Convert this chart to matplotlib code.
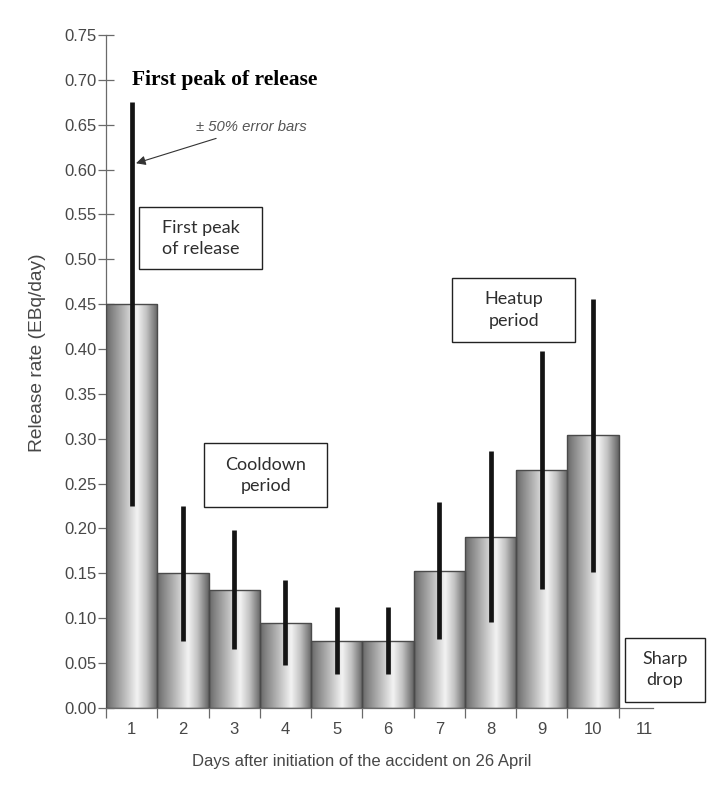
import numpy as np
import matplotlib
matplotlib.use("Agg")
import matplotlib.pyplot as plt
from matplotlib.colors import LinearSegmentedColormap
from matplotlib.patches import Rectangle

# release rate per day (EBq/day), error bars are +/- 50 %
days = np.arange(1, 11)
release = [0.45, 0.15, 0.132, 0.095, 0.075, 0.075, 0.153, 0.191, 0.265, 0.304]
err_frac = 0.5
tick_days = list(range(1, 12))
yticks = np.arange(0, 0.76, 0.05)

# labelled boxes: (text, x0, x1, y0, y1) in data units
boxes = [
    ("First peak\nof release", 1.145, 3.547, 0.489, 0.558),
    ("Cooldown\nperiod", 2.414, 4.816, 0.224, 0.295),
    ("Heatup\nperiod", 7.258, 9.641, 0.408, 0.479),
    ("Sharp\ndrop", 10.617, 12.18, 0.007, 0.078),
]

plt.rcParams["font.family"] = ["Liberation Sans", "DejaVu Sans"]
grey_txt = "#474747"

fig = plt.figure(figsize=(7.12, 7.89), dpi=100)
ax = fig.add_axes([0.1489, 0.1027, 0.7683, 0.853])

metal = LinearSegmentedColormap.from_list(
    "metal",
    [(0.0, "#676767"), (0.12, "#858585"), (0.40, "#c4c4c4"),
     (0.60, "#f3f3f3"), (0.78, "#c2c2c2"), (1.0, "#626262")])
grad = np.linspace(0, 1, 256).reshape(1, -1)

bars = ax.bar(days, release, width=1.0, facecolor="none",
              edgecolor="#4a4a4a", linewidth=1.0, zorder=3)
for b in bars:
    x0, w, h = b.get_x(), b.get_width(), b.get_height()
    im = ax.imshow(grad, cmap=metal, extent=[x0, x0 + w, 0, h],
                   aspect="auto", zorder=2, interpolation="bilinear")
    im.set_clip_path(b)

yerr = np.array(release) * err_frac
ax.errorbar(days, release, yerr=yerr, fmt="none", ecolor="#141414",
            elinewidth=3.4, capsize=0, zorder=4)

ax.set_xlim(0.5, 11.17)
ax.set_ylim(0, 0.75)

for s in ["top", "right"]:
    ax.spines[s].set_visible(False)
for s in ["left", "bottom"]:
    ax.spines[s].set_color("#6a6a6a")
    ax.spines[s].set_linewidth(0.9)

ax.set_yticks(yticks)
ax.set_yticklabels(["%.2f" % v for v in yticks])
ax.tick_params(axis="y", direction="inout", length=12, width=0.9,
               color="#6a6a6a", labelcolor=grey_txt, labelsize=12, pad=1)

ax.set_xticks(np.arange(0.5, 11, 1.0))
ax.set_xticklabels([])
ax.tick_params(axis="x", which="major", direction="out", length=7,
               width=0.9, color="#6a6a6a")
ax.set_xticks(tick_days, minor=True)
ax.set_xticklabels([str(d) for d in tick_days], minor=True)
ax.tick_params(axis="x", which="minor", length=0, pad=10,
               labelcolor=grey_txt, labelsize=12)

ax.set_xlabel("Days after initiation of the accident on 26 April",
              fontsize=12, color=grey_txt)
ax.xaxis.set_label_coords(0.468, -0.0795)
ax.xaxis.label.set_va("center")
ax.set_ylabel("Release rate (EBq/day)", fontsize=13.8, color=grey_txt)
ax.yaxis.set_label_coords(-0.125, 0.528)
ax.yaxis.label.set_va("center")

ax.text(1.0, 0.70, "First peak of release", fontsize=15.5, fontweight="bold",
        family=["Liberation Serif", "DejaVu Serif"], ha="left", va="center",
        color="black", zorder=6)

ax.annotate("± 50% error bars", xy=(1.085, 0.607), xytext=(2.26, 0.647),
            fontsize=10.7, style="italic", color="#555555",
            ha="left", va="center",
            arrowprops=dict(arrowstyle="-|>", color="#333333", lw=0.8,
                            mutation_scale=14, shrinkA=3, shrinkB=0),
            zorder=6)

for label, bx0, bx1, by0, by1 in boxes:
    ax.add_patch(Rectangle((bx0, by0), bx1 - bx0, by1 - by0,
                           facecolor="white", edgecolor="#222222",
                           linewidth=1.0, clip_on=False, zorder=5))
    ax.text((bx0 + bx1) / 2, (by0 + by1) / 2, label, ha="center",
            va="center", fontsize=13, family=["Lato", "DejaVu Sans"],
            color="#2e2e2e", linespacing=1.4, clip_on=False, zorder=6)

fig.savefig("out.png", dpi=100)
